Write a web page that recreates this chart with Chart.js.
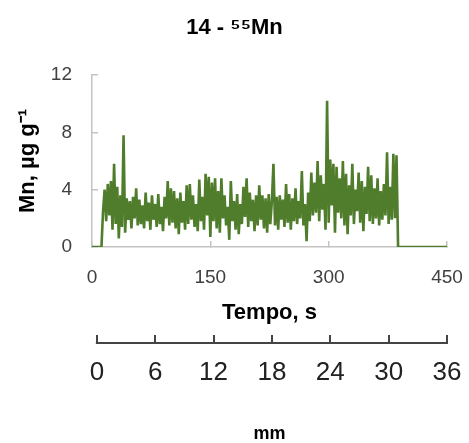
<!DOCTYPE html>
<html>
<head>
<meta charset="utf-8">
<title>14 - 55Mn</title>
<script src="https://cdn.jsdelivr.net/npm/chart.js@4/dist/chart.umd.min.js"></script>
<style>
  html, body { margin: 0; padding: 0; background: #fff; }
  #chart { display: block; }
</style>
</head>
<body>
<canvas id="chart" width="469" height="443"></canvas>
<script>
// ── Data ────────────────────────────────────────────────────────────────

const titleText  = '14 - \u2075\u2075Mn';
const yTitle     = 'Mn, \u00b5g g\u207b\u00b9';
const xTitle     = 'Tempo, s';
const mmTitle    = 'mm';

const yTicks  = [0, 4, 8, 12];
const xTicks  = [0, 150, 300, 450];
const mmTicks = [0, 6, 12, 18, 24, 30, 36];

// Time (s) of each reading
const tempo = [
  0, 12,
  14, 16, 18, 20, 22, 24, 26, 28, 30, 32, 34, 36, 38, 40, 42, 44, 46, 48, 50, 52,
  54, 56, 58, 60, 62, 64, 66, 68, 70, 72, 74, 76, 78, 80, 82, 84, 86, 88, 90, 92,
  94, 96, 98, 100, 102, 104, 106, 108, 110, 112, 114, 116, 118, 120, 122, 124, 126, 128, 130, 132,
  134, 136, 138, 140, 142, 144, 146, 148, 150, 152, 154, 156, 158, 160, 162, 164, 166, 168, 170, 172,
  174, 176, 178, 180, 182, 184, 186, 188, 190, 192, 194, 196, 198, 200, 202, 204, 206, 208, 210, 212,
  214, 216, 218, 220, 222, 224, 226, 228, 230, 232, 234, 236, 238, 240, 242, 244, 246, 248, 250, 252,
  254, 256, 258, 260, 262, 264, 266, 268, 270, 272, 274, 276, 278, 280, 282, 284, 286, 288, 290, 292,
  294, 296, 298, 300, 302, 304, 306, 308, 310, 312, 314, 316, 318, 320, 322, 324, 326, 328, 330, 332,
  334, 336, 338, 340, 342, 344, 346, 348, 350, 352, 354, 356, 358, 360, 362, 364, 366, 368, 370, 372,
  374, 376, 378, 380, 382, 384, 386,
  388, 450
];

// Mn concentration (µg g-1) at each time above
const mn = [
  0, 0,
  2.5, 4.0, 1.8, 4.4, 2.2, 4.6, 1.2, 5.8, 1.6, 4.2, 0.6, 3.6, 1.4, 7.8, 1.0, 3.4, 1.9, 3.2, 1.3, 3.5,
  2.0, 4.1, 1.5, 3.3, 1.6, 2.9, 1.3, 3.8, 1.8, 3.1, 1.2, 3.6, 1.9, 3.0, 1.4, 3.7, 1.6, 2.8, 1.1, 3.5,
  2.0, 4.6, 1.5, 4.1, 1.7, 3.9, 1.3, 3.4, 0.9, 3.8, 1.7, 3.2, 1.2, 4.3, 1.6, 4.4, 1.9, 3.6, 1.4, 3.0,
  1.1, 4.7, 1.8, 3.5, 1.2, 5.1, 2.2, 4.9, 0.7, 4.5, 1.8, 4.8, 1.3, 3.9, 1.0, 4.8, 2.0, 3.6, 1.5, 2.8,
  0.5, 4.6, 1.8, 3.2, 1.2, 3.7, 0.9, 3.0, 1.6, 4.2, 2.1, 4.8, 1.4, 3.8, 1.8, 3.3, 1.1, 3.6, 1.5, 4.3,
  1.9, 3.6, 1.3, 3.4, 1.0, 3.7, 1.6, 3.2, 5.8, 1.5, 3.5, 1.2, 3.6, 1.9, 3.3, 1.4, 4.4, 1.7, 3.7, 1.2,
  3.4, 1.8, 4.1, 1.6, 3.2, 2.0, 5.3, 1.5, 3.0, 0.4, 3.8, 1.8, 5.2, 2.2, 4.5, 2.4, 6.0, 1.8, 5.0, 2.6,
  4.4, 1.2, 10.2, 1.7, 6.1, 2.9, 5.8, 1.0, 5.6, 2.4, 4.8, 2.0, 6.0, 1.5, 5.1, 0.9, 4.3, 2.2, 5.8, 1.6,
  4.0, 2.5, 5.2, 1.7, 4.6, 1.1, 4.2, 2.3, 5.6, 1.8, 5.0, 1.6, 4.1, 2.0, 4.8, 1.5, 3.9, 1.9, 4.4, 2.2,
  6.6, 1.6, 4.2, 1.9, 6.5, 2.0, 6.4,
  0, 0
];

// ── Styles ──────────────────────────────────────────────────────────────

const FONT      = 'Arial, "Liberation Sans", sans-serif';
const lineColor = '#4f7d2c';
const axisGray  = '#c4c4c4';
const tickText  = '#404040';

function setTicks(values) {
  return scale => { scale.ticks = values.map(v => ({ value: v })); };
}

// Fix a horizontal axis' height and its side margins (keeps the title centred on the canvas)
function fitHeight(h) {
  return scale => {
    scale.height = h;
    scale.paddingLeft = 0;
    scale.paddingRight = 22;
  };
}

// Draws the baseline of the mm scale under its tick marks
const mmBaseline = {
  id: 'mmBaseline',
  afterDraw(chart) {
    const s   = chart.scales.x2;
    const ctx = chart.ctx;
    const y   = s.top + s.options.grid.tickLength;
    ctx.save();
    ctx.strokeStyle = '#444';
    ctx.lineWidth   = 2;
    ctx.beginPath();
    ctx.moveTo(s.getPixelForValue(mmTicks[0]) - 1, y);
    ctx.lineTo(s.getPixelForValue(mmTicks[mmTicks.length - 1]) + 1, y);
    ctx.stroke();
    ctx.restore();
  }
};

// Short inward tick marks, as on the original axes
const innerTicks = { display: true, drawOnChartArea: false, drawTicks: true, tickLength: -6, color: axisGray, lineWidth: 1.5 };

new Chart(document.getElementById('chart'), {
  type: 'line',
  data: {
    datasets: [{
      data: tempo.map((t, i) => ({ x: t, y: mn[i] })),
      borderColor: lineColor,
      borderWidth: 2.6,
      pointRadius: 0,
      tension: 0,
      fill: false,
    }],
  },
  options: {
    responsive: false,
    animation: false,
    devicePixelRatio: 1,
    layout: { padding: 0 },
    plugins: {
      legend:  { display: false },
      tooltip: { enabled: false },
      title: {
        display: true,
        text: titleText,
        color: '#000',
        font: { family: FONT, size: 22, weight: 'bold', lineHeight: 1.2 },
        padding: { top: 14.8, bottom: 33.8 },
      },
    },
    scales: {
      y: {
        type: 'linear',
        min: 0, max: 12,
        afterBuildTicks: setTicks(yTicks),
        afterFit: s => { s.width = 92; },
        grid:   innerTicks,
        border: { display: true, color: axisGray, width: 1.5 },
        ticks:  { color: tickText, padding: 26, font: { family: FONT, size: 19 } },
        title: {
          display: true,
          text: yTitle,
          color: '#000',
          font: { family: FONT, size: 22, weight: 'bold', lineHeight: 1.2 },
          padding: { top: 14.8, bottom: 0 },
        },
      },
      x: {
        type: 'linear',
        position: 'bottom',
        min: 0, max: 450,
        afterBuildTicks: setTicks(xTicks),
        afterFit: fitHeight(88),
        grid:   innerTicks,
        border: { display: true, color: axisGray, width: 1.5 },
        ticks:  { color: tickText, padding: 25.6, maxRotation: 0, font: { family: FONT, size: 19 } },
        title: {
          display: true,
          text: xTitle,
          color: '#000',
          font: { family: FONT, size: 22, weight: 'bold', lineHeight: 1.2 },
          padding: { top: 0, bottom: 8.8 },
        },
      },
      x2: {
        type: 'linear',
        position: 'bottom',
        min: -0.5, max: 36,
        afterBuildTicks: setTicks(mmTicks),
        afterFit: fitHeight(108),
        grid: {
          display: true,
          drawOnChartArea: false,
          drawTicks: true,
          tickLength: 8,
          color: '#444',
          lineWidth: 2,
        },
        border: { display: false },
        ticks:  { color: '#222', padding: 14.4, maxRotation: 0, font: { family: FONT, size: 26 } },
        title: {
          display: true,
          text: mmTitle,
          color: '#000',
          font: { family: FONT, size: 18, weight: 'bold', lineHeight: 1 },
          padding: { top: 0, bottom: 0 },
        },
      },
    },
  },
  plugins: [mmBaseline],
});
</script>
</body>
</html>
